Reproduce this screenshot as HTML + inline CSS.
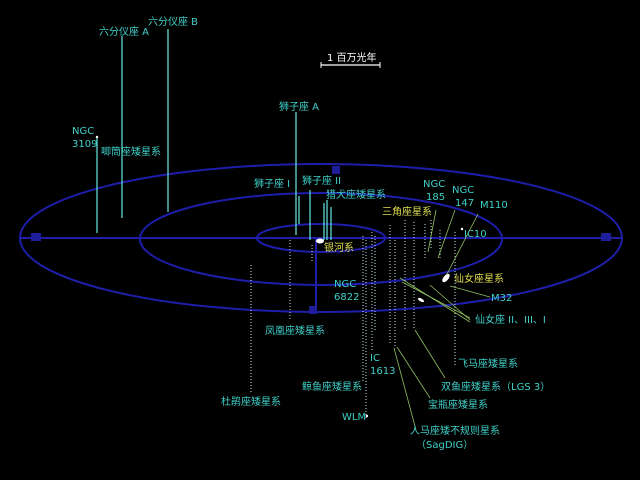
<!DOCTYPE html>
<html><head><meta charset="utf-8"><style>
html,body{margin:0;padding:0;background:#000;width:640px;height:480px;overflow:hidden}
svg{display:block}
text{font-family:"DejaVu Sans","Noto Sans CJK SC",sans-serif;font-size:10px}
.c{fill:#3fd0c8}.y{fill:#dede50}
.s{stroke:#5fd8d0;stroke-width:1.3}
.d{stroke:#c8e8e8;stroke-width:1;stroke-dasharray:1,2}
.g{stroke:#90c060;stroke-width:0.8}
</style></head><body>
<svg width="640" height="480" viewBox="0 0 640 480">
<rect width="640" height="480" fill="#000"/>
<g fill="none" stroke="#2424c8" stroke-width="2" opacity="0.85">
<ellipse cx="321" cy="238" rx="301" ry="74"/>
<ellipse cx="321" cy="239" rx="181" ry="46"/>
<ellipse cx="321" cy="238" rx="64" ry="14"/>
<line x1="20" y1="238" x2="622" y2="238"/>
<line x1="316" y1="238" x2="316" y2="312"/>
</g>
<rect x="31" y="233" width="10" height="8" fill="#1e1e9a"/>
<rect x="601" y="233" width="10" height="8" fill="#1e1e9a"/>
<rect x="332" y="166" width="8" height="8" fill="#1e1e9a"/>
<rect x="309" y="306" width="8" height="8" fill="#1e1e9a"/>
<!-- scale -->
<line x1="321" y1="65" x2="380" y2="65" stroke="#fff" stroke-width="1.2"/>
<line x1="321" y1="62" x2="321" y2="68" stroke="#fff"/><line x1="380" y1="62" x2="380" y2="68" stroke="#fff"/>
<text x="327" y="61" fill="#fff">1 百万光年</text>
<!-- solid lines -->
<line class="s" x1="97" y1="137" x2="97" y2="233"/>
<line class="s" x1="122" y1="36" x2="122" y2="218"/>
<line class="s" x1="168" y1="29" x2="168" y2="212"/>
<line class="s" x1="296" y1="112" x2="296" y2="235"/>
<line class="s" x1="299" y1="196" x2="299" y2="224"/>
<line class="s" x1="310" y1="190" x2="310" y2="240"/>
<line class="s" x1="324" y1="203" x2="324" y2="240"/>
<line class="s" x1="327" y1="200" x2="327" y2="240"/>
<line class="s" x1="331" y1="207" x2="331" y2="240"/>
<!-- dotted lines -->
<line class="d" x1="251" y1="265" x2="251" y2="392"/>
<line class="d" x1="290" y1="240" x2="290" y2="320"/>
<line class="d" x1="312" y1="245" x2="312" y2="262"/>
<line class="d" x1="363" y1="236" x2="363" y2="383"/>
<line class="d" x1="366" y1="240" x2="366" y2="418"/>
<line class="d" x1="372" y1="232" x2="372" y2="350"/>
<line class="d" x1="375" y1="236" x2="375" y2="330"/>
<line class="d" x1="390" y1="225" x2="390" y2="345"/>
<line class="d" x1="395" y1="240" x2="395" y2="348"/>
<line class="d" x1="405" y1="220" x2="405" y2="330"/>
<line class="d" x1="414" y1="222" x2="414" y2="330"/>
<line class="d" x1="425" y1="224" x2="425" y2="260"/>
<line class="d" x1="431" y1="220" x2="431" y2="250"/>
<line class="d" x1="440" y1="230" x2="440" y2="260"/>
<line class="d" x1="455" y1="365" x2="455" y2="232"/>
<!-- green leader lines -->
<line class="g" x1="400" y1="278" x2="470" y2="322"/>
<line class="g" x1="402" y1="282" x2="470" y2="318"/>
<line class="g" x1="430" y1="285" x2="470" y2="320"/>
<line class="g" x1="450" y1="286" x2="490" y2="297"/>
<line class="g" x1="394" y1="348" x2="416" y2="430"/>
<line class="g" x1="397" y1="347" x2="430" y2="398"/>
<line class="g" x1="415" y1="330" x2="445" y2="378"/>
<line class="g" x1="428" y1="252" x2="436" y2="210"/>
<line class="g" x1="438" y1="258" x2="455" y2="210"/>
<line class="g" x1="445" y1="278" x2="478" y2="214"/>
<!-- objects -->
<ellipse cx="320" cy="241" rx="4" ry="2.5" fill="#fff"/>
<ellipse cx="446" cy="278" rx="2.5" ry="5" transform="rotate(40 446 278)" fill="#fff"/>
<ellipse cx="421" cy="300" rx="3.5" ry="1.5" transform="rotate(30 421 300)" fill="#fff"/>
<circle cx="462" cy="229" r="1.2" fill="#fff"/>
<circle cx="367" cy="416" r="1.2" fill="#fff"/>
<circle cx="97" cy="137" r="1.2" fill="#fff"/>
<!-- labels -->
<g class="c">
<text x="99" y="35">六分仪座 A</text>
<text x="148" y="25">六分仪座 B</text>
<text x="279" y="110">狮子座 A</text>
<text x="72" y="134">NGC</text><text x="72" y="147">3109</text>
<text x="101" y="155">唧筒座矮星系</text>
<text x="254" y="187">狮子座 I</text>
<text x="302" y="184">狮子座 II</text>
<text x="326" y="198">猎犬座矮星系</text>
<text x="423" y="187">NGC</text><text x="426" y="200">185</text>
<text x="452" y="193">NGC</text><text x="455" y="206">147</text>
<text x="480" y="208">M110</text>
<text x="464" y="237">IC10</text>
<text x="334" y="287">NGC</text><text x="334" y="300">6822</text>
<text x="491" y="301">M32</text>
<text x="475" y="323">仙女座 II、III、I</text>
<text x="265" y="334">凤凰座矮星系</text>
<text x="370" y="361">IC</text><text x="370" y="374">1613</text>
<text x="458" y="367">飞马座矮星系</text>
<text x="302" y="390">鲸鱼座矮星系</text>
<text x="441" y="390">双鱼座矮星系（LGS 3）</text>
<text x="221" y="405">杜鹃座矮星系</text>
<text x="428" y="408">宝瓶座矮星系</text>
<text x="342" y="420">WLM</text>
<text x="410" y="434">人马座矮不规则星系</text>
<text x="416" y="448">（SagDIG）</text>
</g>
<g class="y">
<text x="382" y="215">三角座星系</text>
<text x="324" y="251">银河系</text>
<text x="454" y="282">仙女座星系</text>
</g>
</svg>
</body></html>
